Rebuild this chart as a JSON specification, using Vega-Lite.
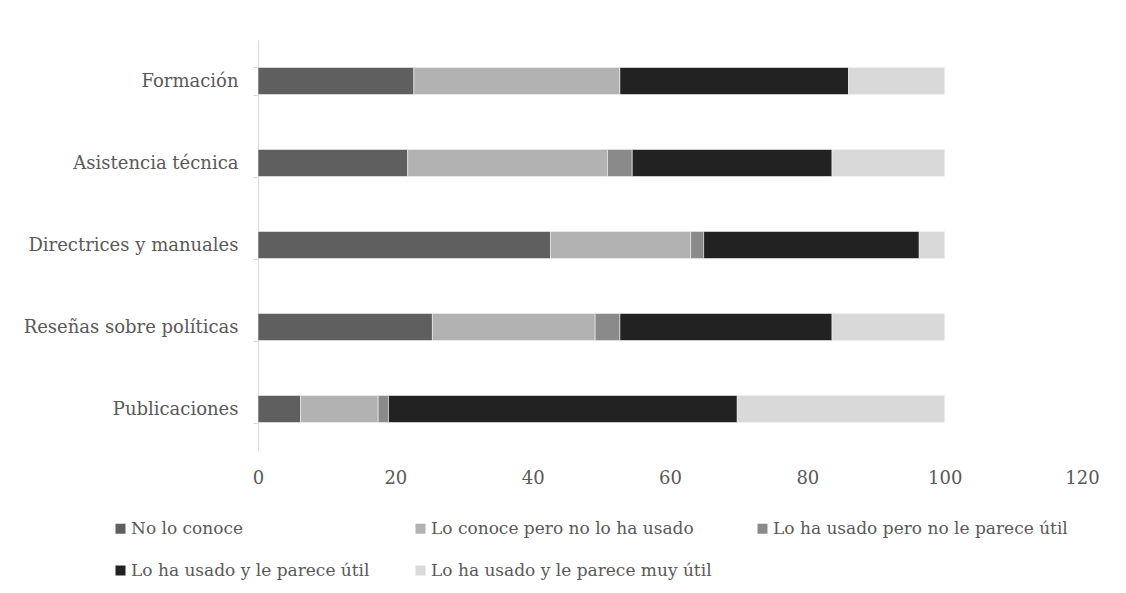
{
  "$schema": "https://vega.github.io/schema/vega-lite/v6.json",
  "autosize": "none",
  "width": 824,
  "height": 410,
  "padding": {"left": 258, "top": 40, "right": 44, "bottom": 143},
  "background": "white",
  "config": {
    "view": {"stroke": null},
    "font": "DejaVu Serif"
  },
  "data": {
    "values": [
      {"cat": "Formación", "resp": "No lo conoce", "o": 1, "v": 22.7},
      {"cat": "Formación", "resp": "Lo conoce pero no lo ha usado", "o": 2, "v": 30.0},
      {"cat": "Formación", "resp": "Lo ha usado pero no le parece útil", "o": 3, "v": 0},
      {"cat": "Formación", "resp": "Lo ha usado y le parece útil", "o": 4, "v": 33.3},
      {"cat": "Formación", "resp": "Lo ha usado y le parece muy útil", "o": 5, "v": 14.0},
      {"cat": "Asistencia técnica", "resp": "No lo conoce", "o": 1, "v": 21.8},
      {"cat": "Asistencia técnica", "resp": "Lo conoce pero no lo ha usado", "o": 2, "v": 29.1},
      {"cat": "Asistencia técnica", "resp": "Lo ha usado pero no le parece útil", "o": 3, "v": 3.6},
      {"cat": "Asistencia técnica", "resp": "Lo ha usado y le parece útil", "o": 4, "v": 29.1},
      {"cat": "Asistencia técnica", "resp": "Lo ha usado y le parece muy útil", "o": 5, "v": 16.4},
      {"cat": "Directrices y manuales", "resp": "No lo conoce", "o": 1, "v": 42.6},
      {"cat": "Directrices y manuales", "resp": "Lo conoce pero no lo ha usado", "o": 2, "v": 20.4},
      {"cat": "Directrices y manuales", "resp": "Lo ha usado pero no le parece útil", "o": 3, "v": 1.9},
      {"cat": "Directrices y manuales", "resp": "Lo ha usado y le parece útil", "o": 4, "v": 31.4},
      {"cat": "Directrices y manuales", "resp": "Lo ha usado y le parece muy útil", "o": 5, "v": 3.7},
      {"cat": "Reseñas sobre políticas", "resp": "No lo conoce", "o": 1, "v": 25.4},
      {"cat": "Reseñas sobre políticas", "resp": "Lo conoce pero no lo ha usado", "o": 2, "v": 23.7},
      {"cat": "Reseñas sobre políticas", "resp": "Lo ha usado pero no le parece útil", "o": 3, "v": 3.6},
      {"cat": "Reseñas sobre políticas", "resp": "Lo ha usado y le parece útil", "o": 4, "v": 30.9},
      {"cat": "Reseñas sobre políticas", "resp": "Lo ha usado y le parece muy útil", "o": 5, "v": 16.4},
      {"cat": "Publicaciones", "resp": "No lo conoce", "o": 1, "v": 6.2},
      {"cat": "Publicaciones", "resp": "Lo conoce pero no lo ha usado", "o": 2, "v": 11.3},
      {"cat": "Publicaciones", "resp": "Lo ha usado pero no le parece útil", "o": 3, "v": 1.5},
      {"cat": "Publicaciones", "resp": "Lo ha usado y le parece útil", "o": 4, "v": 50.8},
      {"cat": "Publicaciones", "resp": "Lo ha usado y le parece muy útil", "o": 5, "v": 30.2}
    ]
  },
  "mark": {"type": "bar", "stroke": "#f2f2f2", "strokeWidth": 0.6},
  "encoding": {
    "y": {
      "field": "cat",
      "type": "nominal",
      "sort": ["Formación", "Asistencia técnica", "Directrices y manuales", "Reseñas sobre políticas", "Publicaciones"],
      "scale": {"paddingInner": 0.67, "paddingOuter": 0.335},
      "axis": {
        "title": null,
        "tickBand": "extent",
        "domainColor": "#d9d9d9",
        "tickColor": "#d9d9d9",
        "tickSize": 5,
        "labelPadding": 15,
        "labelFontSize": 18,
        "labelColor": "#595959",
        "labelLimit": 300
      }
    },
    "x": {
      "field": "v",
      "type": "quantitative",
      "stack": "zero",
      "scale": {"domain": [0, 120]},
      "axis": {
        "title": null,
        "values": [0, 20, 40, 60, 80, 100, 120],
        "domain": false,
        "ticks": false,
        "grid": false,
        "labelDx": -9,
        "labelPadding": 19,
        "labelFontSize": 18,
        "labelColor": "#595959",
        "labelFlush": false
      }
    },
    "order": {"field": "o", "type": "quantitative"},
    "color": {
      "field": "resp",
      "type": "nominal",
      "sort": ["No lo conoce", "Lo conoce pero no lo ha usado", "Lo ha usado pero no le parece útil", "Lo ha usado y le parece útil", "Lo ha usado y le parece muy útil"],
      "scale": {
        "domain": ["No lo conoce", "Lo conoce pero no lo ha usado", "Lo ha usado pero no le parece útil", "Lo ha usado y le parece útil", "Lo ha usado y le parece muy útil"],
        "range": ["#5f5f5f", "#b2b2b2", "#8a8a8a", "#222222", "#d9d9d9"]
      },
      "legend": {
        "title": null,
        "orient": "none",
        "legendX": -146,
        "legendY": 480,
        "direction": "horizontal",
        "columns": 3,
        "gridAlign": "each",
        "columnPadding": 42,
        "rowPadding": 24,
        "symbolType": "square",
        "symbolSize": 100,
        "symbolStrokeWidth": 0,
        "symbolOpacity": 1,
        "labelOffset": 2,
        "labelFontSize": 17,
        "labelColor": "#595959",
        "labelLimit": 400
      }
    }
  }
}
